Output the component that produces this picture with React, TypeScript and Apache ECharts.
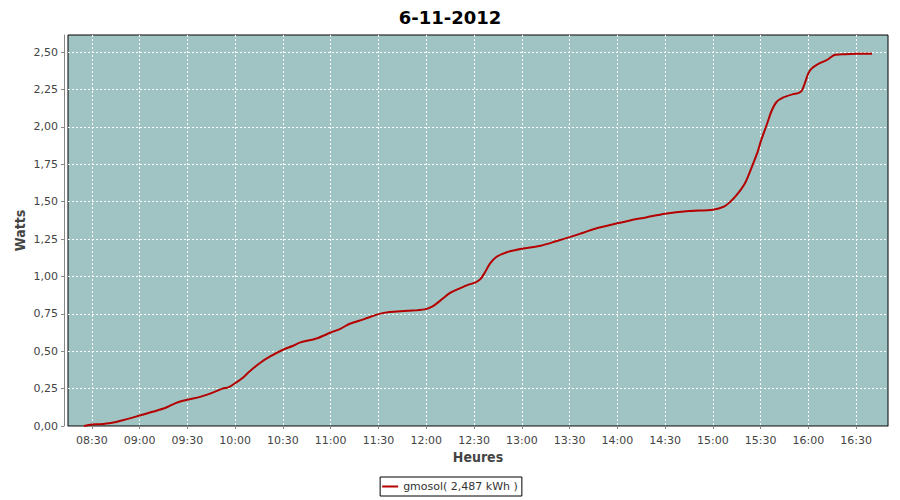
import React, { useEffect, useRef } from "react";
import * as echarts from "echarts";

const titleText = "6-11-2012";
const seriesName = "gmosol( 2,487 kWh )";
const xTickLabels = ["08:30", "09:00", "09:30", "10:00", "10:30", "11:00", "11:30", "12:00", "12:30", "13:00", "13:30", "14:00", "14:30", "15:00", "15:30", "16:00", "16:30"];
const yTickValues = [0, 0.25, 0.5, 0.75, 1.0, 1.25, 1.5, 1.75, 2.0, 2.25, 2.5];
const xRange = ["08:15", "16:50"];
const yMax = 2.615;

const times = [
  "08:25", "08:30", "08:35", "08:42", "08:50", "09:00", "09:08", "09:16", "09:23", "09:30",
  "09:38", "09:45", "09:52", "09:56", "10:00", "10:05", "10:09", "10:16", "10:22", "10:30",
  "10:36", "10:41", "10:51", "11:00", "11:06", "11:12", "11:21", "11:30", "11:37", "11:48",
  "11:59", "12:04", "12:09", "12:15", "12:21", "12:27", "12:31", "12:34", "12:37", "12:40",
  "12:44", "12:51", "13:00", "13:12", "13:22", "13:30", "13:39", "13:47", "14:00", "14:08",
  "14:18", "14:30", "14:45", "15:00", "15:07", "15:11", "15:15", "15:20", "15:24", "15:28",
  "15:30", "15:34", "15:37", "15:40", "15:44", "15:50", "15:54", "15:56", "15:58", "16:00",
  "16:02", "16:06", "16:12", "16:16", "16:23", "16:30", "16:40"
];
const watts = [
  0.0, 0.01, 0.012, 0.02, 0.04, 0.07, 0.095, 0.12, 0.155, 0.176,
  0.195, 0.22, 0.25, 0.26, 0.287, 0.325, 0.365, 0.425, 0.465, 0.51,
  0.535, 0.559, 0.585, 0.625, 0.65, 0.684, 0.715, 0.748, 0.762, 0.77,
  0.78, 0.8, 0.84, 0.89, 0.92, 0.947, 0.96, 0.982, 1.03, 1.086,
  1.13, 1.164, 1.186, 1.206, 1.237, 1.263, 1.294, 1.323, 1.356, 1.375,
  1.395, 1.42, 1.438, 1.447, 1.467, 1.5, 1.545, 1.62, 1.72, 1.83,
  1.9, 2.02, 2.11, 2.167, 2.196, 2.218, 2.228, 2.245, 2.3, 2.36,
  2.39, 2.42, 2.45, 2.48, 2.487, 2.49, 2.49
];

const toMin = (s: string) => {
  const [h, m] = s.split(":").map(Number);
  return h * 60 + m;
};
const fmtMin = (v: number) => {
  const h = Math.floor(v / 60);
  const m = Math.round(v - h * 60);
  return String(h).padStart(2, "0") + ":" + String(m).padStart(2, "0");
};

const FONT = "DejaVu Sans";

export default function App() {
  const ref = useRef<HTMLDivElement>(null);
  useEffect(() => {
    document.body.style.margin = "0";
    const chart = echarts.init(ref.current!, null, { renderer: "svg" });
    const xTicks = xTickLabels.map(toMin);
    chart.setOption({
      animation: false,
      backgroundColor: "#ffffff",
      title: {
        text: titleText,
        left: "center",
        top: 3,
        textStyle: { fontFamily: FONT, fontSize: 18, fontWeight: "bold", color: "#000" },
      },
      legend: {
        data: [seriesName],
        left: "center",
        top: 477,
        icon: "rect",
        itemWidth: 16,
        itemHeight: 2,
        padding: [4, 4, 4, 2],
        borderColor: "#000",
        borderWidth: 1,
        borderRadius: 0,
        textStyle: { fontFamily: FONT, fontSize: 11, color: "#333" },
      },
      grid: {
        left: 68,
        right: 12,
        top: 35,
        bottom: 74,
        show: true,
        backgroundColor: "#a0c4c3",
        borderColor: "#000",
        borderWidth: 1,
        containLabel: false,
      },
      xAxis: {
        type: "value",
        min: toMin(xRange[0]),
        max: toMin(xRange[1]),
        offset: 4,
        name: "Heures",
        nameLocation: "middle",
        nameGap: 20,
        nameMoveOverlap: false,
        nameTextStyle: { fontFamily: "DejaVu Sans Condensed", fontSize: 14, fontWeight: "bold", color: "#444" },
        axisLine: { show: true, lineStyle: { color: "#888", width: 1 } },
        axisTick: { show: true, length: 3, lineStyle: { color: "#888" }, customValues: xTicks },
        axisLabel: {
          customValues: xTicks,
          formatter: (v: number) => fmtMin(v),
          fontFamily: FONT,
          fontSize: 11,
          color: "#444",
          margin: 5,
        },
        splitLine: { show: true, lineStyle: { color: "#ffffff", type: [2, 2], width: 1 } },
      },
      yAxis: {
        type: "value",
        min: 0,
        max: yMax,
        offset: 4,
        name: "Watts",
        nameLocation: "middle",
        nameGap: 37,
        nameMoveOverlap: false,
        nameTextStyle: { fontFamily: "DejaVu Sans Condensed", fontSize: 14, fontWeight: "bold", color: "#444" },
        axisLine: { show: true, lineStyle: { color: "#888", width: 1 } },
        axisTick: { show: true, length: 3, lineStyle: { color: "#888" }, customValues: yTickValues },
        axisLabel: {
          customValues: yTickValues,
          formatter: (v: number) => v.toFixed(2).replace(".", ","),
          fontFamily: FONT,
          fontSize: 11,
          color: "#444",
          margin: 6,
        },
        splitLine: { show: true, lineStyle: { color: "#ffffff", type: [2, 2], width: 1 } },
      },
      series: [
        {
          name: seriesName,
          type: "line",
          data: times.map((t, i) => [toMin(t), watts[i]]),
          showSymbol: false,
          smooth: 0.3,
          lineStyle: { color: "#b40000", width: 2 },
          itemStyle: { color: "#b40000" },
        },
      ],
    });
    return () => chart.dispose();
  }, []);
  return <div ref={ref} style={{ width: 900, height: 500 }} />;
}
